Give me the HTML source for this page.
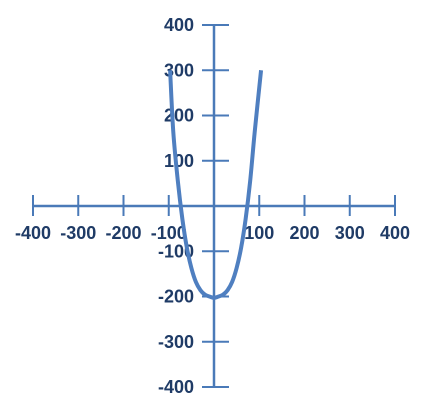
<!DOCTYPE html>
<html><head><meta charset="utf-8"><style>
html,body{margin:0;padding:0;background:#fff;}
svg{display:block;font-family:"Liberation Sans",sans-serif;}
text{font-weight:bold;font-size:18px;fill:#1f3b66;}
</style></head><body>
<svg id="chart" width="427" height="420" viewBox="0 0 427 420"></svg>
<script>
const xTicks=[-400,-300,-200,-100,100,200,300,400];
const yTicks=[400,300,200,100,-100,-200,-300,-400];
const seriesX=[-97,-90,-80,-70,-60,-50,-40,-30,-20,-10,0,10,20,30,40,50,60,70,80,90,104];
const seriesY=[300,164,56,-28,-92,-137,-168,-186,-196,-200,-203,-200,-196,-186,-168,-137,-92,-28,56,164,300];
const ns="http://www.w3.org/2000/svg";
const svg=document.getElementById('chart');
const ox=214, oy=206, k=45.25/100;
const sx=v=>ox+v*k, sy=v=>oy-v*k;
function el(t,a){const e=document.createElementNS(ns,t);for(const n in a)e.setAttribute(n,a[n]);svg.appendChild(e);return e;}
const ax='#4a7ab8';
let e=el('line',{x1:sx(-400),x2:sx(400),y1:oy,y2:oy,stroke:ax,'stroke-width':2.5});


e=el('line',{x1:ox,x2:ox,y1:sy(400),y2:sy(-400),stroke:ax,'stroke-width':2.5});


xTicks.forEach(v=>{
  let t=el('line',{x1:sx(v),x2:sx(v),y1:oy-11,y2:oy+10,stroke:ax,'stroke-width':2});
  
  
  let l=el('text',{x:sx(v),y:oy+33,'text-anchor':'middle'});
  l.textContent=v;
  
  
});
yTicks.forEach(v=>{
  let t=el('line',{x1:ox-12,x2:ox+15,y1:sy(v),y2:sy(v),stroke:ax,'stroke-width':2});
  
  
  let l=el('text',{x:ox-20,y:sy(v)+6,'text-anchor':'end'});
  l.textContent=v;
  
  
});
// smooth curve via Catmull-Rom through data points
const P=seriesX.map((x,i)=>[sx(x),sy(seriesY[i])]);
let d='M'+P[0][0]+','+P[0][1];
for(let i=0;i<P.length-1;i++){
  const p0=P[Math.max(0,i-1)],p1=P[i],p2=P[i+1],p3=P[Math.min(P.length-1,i+2)];
  const c1=[p1[0]+(p2[0]-p0[0])/6,p1[1]+(p2[1]-p0[1])/6];
  const c2=[p2[0]-(p3[0]-p1[0])/6,p2[1]-(p3[1]-p1[1])/6];
  d+=' C'+c1[0]+','+c1[1]+' '+c2[0]+','+c2[1]+' '+p2[0]+','+p2[1];
}
e=el('path',{d:d,fill:'none',stroke:'#4f7fc0','stroke-width':4,'stroke-linejoin':'round'});


</script>
</body></html>
